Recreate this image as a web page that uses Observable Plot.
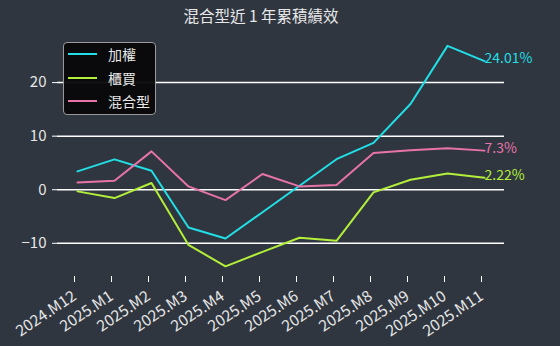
<!DOCTYPE html>
<html>
<head>
<meta charset="utf-8">
<script src="https://cdn.jsdelivr.net/npm/d3@7"></script>
<script src="https://cdn.jsdelivr.net/npm/@observablehq/plot@0.6"></script>
<style>
  html, body { margin: 0; padding: 0; background: #2f3640; }
  #wrap { position: relative; width: 560px; height: 346px; overflow: hidden; font-family: "Noto Sans CJK TC", "Noto Sans", sans-serif; }
  #title { position: absolute; left: 0; top: 4px; width: 522px; text-align: center; color: #e8e8e8; font-size: 15.5px; line-height: 22px; }
  #legend { position: absolute; left: 63px; top: 42px; width: 91px; height: 71px; background: rgba(8,8,10,0.95); border: 1px solid #9a9a9a; border-radius: 4px; }
  .item { position: absolute; left: 4px; height: 20px; display: flex; align-items: center; color: #e8e8e8; font-size: 14px; }
  .sw { width: 29px; height: 2px; margin-right: 11px; }
</style>
</head>
<body>
<div id="wrap">
  <div id="chart"></div>
  <div id="title">混合型近 1 年累積績效</div>
  <div id="legend"></div>
</div>
<script>
const months = ["2024.M12","2025.M1","2025.M2","2025.M3","2025.M4","2025.M5","2025.M6","2025.M7","2025.M8","2025.M9","2025.M10","2025.M11"];
const taiex = [3.42, 5.66, 3.55, -7.04, -9.1, -4.2, 0.75, 5.7, 8.75, 16.0, 26.86, 24.01];
const otc = [-0.31, -1.56, 1.25, -10.3, -14.3, -11.6, -8.97, -9.53, -0.5, 1.87, 3.05, 2.22];
const mixed = [1.37, 1.68, 7.16, 0.62, -1.93, 2.93, 0.62, 0.87, 6.86, 7.35, 7.75, 7.3];
const seriesNames = ["加權", "櫃買", "混合型"];
const seriesColors = ["#22dfe6", "#b3ef3a", "#e873a9"];
const endLabels = ["24.01%", "2.22%", "7.3%"];
const yTicks = [-10, 0, 10, 20];

const seriesValues = [taiex, otc, mixed];
const rows = [];
seriesValues.forEach((vals, si) => vals.forEach((v, i) => rows.push({month: months[i], value: v, series: seriesNames[si]})));
const lastRows = seriesValues.map((vals, si) => ({month: months[months.length - 1], value: vals[vals.length - 1], series: seriesNames[si], label: endLabels[si]}));

const chart = Plot.plot({
  width: 560,
  height: 346,
  marginLeft: 57,
  marginRight: 56,
  marginTop: 35.5,
  marginBottom: 70,
  style: {background: "transparent", color: "#e6e6e6", fontFamily: "'Noto Sans CJK TC', sans-serif", fontSize: "13px"},
  x: {type: "point", domain: months, padding: 0.53, label: null},
  y: {domain: [-16.2, 28.7], label: null},
  color: {domain: seriesNames, range: seriesColors},
  marks: [
    Plot.ruleY(yTicks, {stroke: "#ffffff", strokeWidth: 1.5}),
    Plot.axisY({ticks: yTicks, tickSize: 5, tickPadding: 6, fontSize: 15, stroke: "#ffffff", label: null}),
    Plot.axisX({tickRotate: -34, tickSize: 6, tickPadding: 12, dx: -3, fontSize: 15.5, stroke: "#ffffff", label: null}),
    Plot.lineY(rows, {x: "month", y: "value", z: "series", stroke: "series", strokeWidth: 2}),
    Plot.text(lastRows, {x: "month", y: "value", text: "label", fill: "series", textAnchor: "start", lineAnchor: "bottom", fontSize: 14, dy: 2})
  ]
});
document.getElementById("chart").appendChild(chart);

const legend = document.getElementById("legend");
seriesNames.forEach((name, i) => {
  const d = document.createElement("div");
  d.className = "item";
  d.style.top = (1 + i * 23.5) + "px";
  d.innerHTML = `<span class="sw" style="background:${seriesColors[i]}"></span><span>${name}</span>`;
  legend.appendChild(d);
});
</script>
</body>
</html>
